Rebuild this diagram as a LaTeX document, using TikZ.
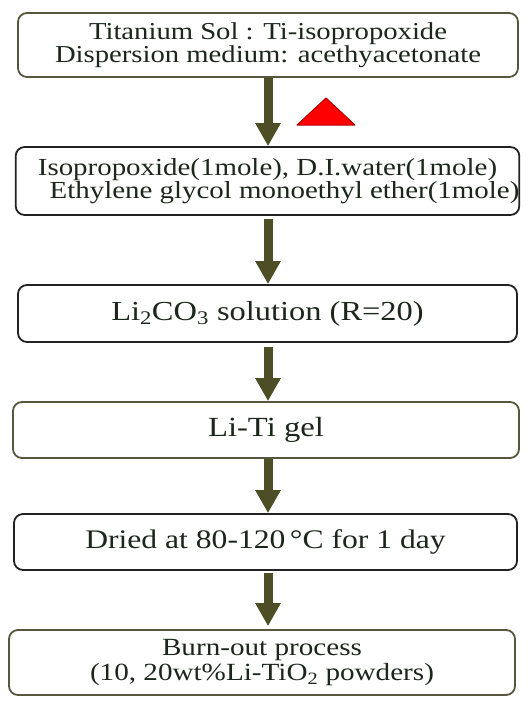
\documentclass[tikz,border=0pt]{standalone}
\usepackage{fontspec}
\setmainfont{Liberation Serif}[FakeStretch=1.18]
\usetikzlibrary{arrows.meta}

\definecolor{oliveline}{HTML}{57573F}
\definecolor{darkline}{HTML}{222222}
\definecolor{arrowfill}{HTML}{4D4D26}
\definecolor{textgreen}{HTML}{1C261C}

\begin{document}
\begin{tikzpicture}[x=1pt,y=-1pt, every node/.style={align=center,text=textgreen},
  box/.style={draw=darkline,line width=1.8pt,rounded corners=9pt,inner sep=0pt,fill=white},
  obox/.style={box,draw=oliveline},
  flow/.style={draw=arrowfill,line width=9pt,-{Triangle[width=24pt,length=23pt]}},
  heat/.style={fill=red,draw=red!70!black,line width=1pt,line join=round}]
\useasboundingbox (0,0) rectangle (530,710);
% process steps
\node[obox,minimum width=500pt,minimum height=64pt,font=\fontsize{24.3}{23.5}\selectfont] (sol) at (268,45)
  {Titanium Sol : Ti-isopropoxide\\Dispersion medium: acethyacetonate};
\node[box,minimum width=499pt,minimum height=68pt,font=\fontsize{24.5}{23.5}\selectfont] (mix) at (267.5,181)
  {Isopropoxide(1mole), D.I.water(1mole)\\\hspace*{34pt}Ethylene glycol monoethyl ether(1mole)};
\node[box,minimum width=499pt,minimum height=57pt,font=\fontsize{27.5}{27}\selectfont] (li) at (267.5,313.5)
  {Li\textsubscript{2}CO\textsubscript{3} solution (R=20)};
\node[obox,minimum width=506pt,minimum height=56pt,font=\fontsize{27.7}{27}\selectfont] (gel) at (266,430)
  {Li-Ti gel};
\node[box,minimum width=503pt,minimum height=56pt,font=\fontsize{26.8}{26}\selectfont] (dry) at (265.5,542)
  {Dried at 80-120\,°C for 1 day};
\node[obox,minimum width=506pt,minimum height=65pt,font=\fontsize{24.7}{25.5}\selectfont] (burn) at (262,662.5)
  {Burn-out process\\(10, 20wt\%Li-TiO\textsubscript{2} powders)};
% arrows
\draw[flow] (sol.south) -- (sol.south |- mix.north);
\draw[flow,shorten <=3pt] (sol.south |- mix.south) -- (sol.south |- li.north);
\draw[flow,shorten <=4pt] (sol.south |- li.south) -- (sol.south |- gel.north);
\draw[flow] (sol.south |- gel.south) -- (sol.south |- dry.north);
\draw[flow,shorten <=2pt,shorten >=3pt] (sol.south |- dry.south) -- (sol.south |- burn.north);
% heating mark
\draw[heat] (297,125) -- (326,98) -- (355,125) -- cycle;
\end{tikzpicture}
\end{document}
